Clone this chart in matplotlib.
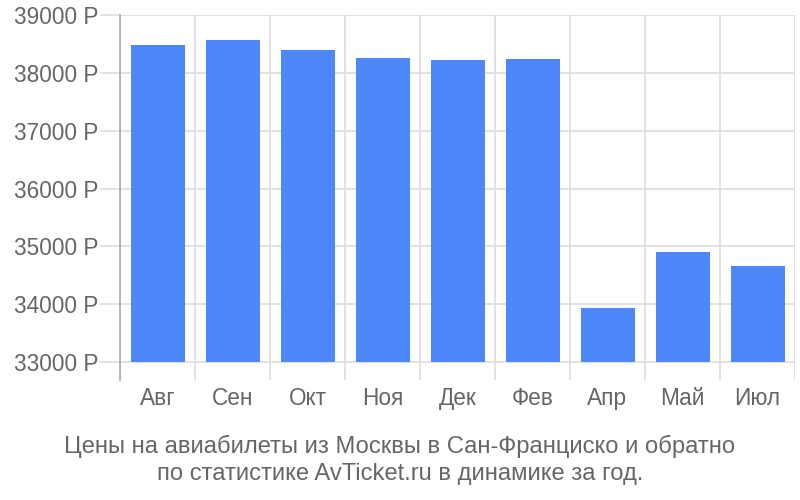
import numpy as np
import matplotlib
matplotlib.use('Agg')
import matplotlib.pyplot as plt

plt.rcParams['font.family'] = ['Liberation Sans', 'DejaVu Sans']

months = ['Авг', 'Сен', 'Окт', 'Ноя', 'Дек', 'Фев', 'Апр', 'Май', 'Июл']
prices = [38480, 38560, 38400, 38260, 38220, 38240, 33930, 34900, 34660]
y_ticks = [33000, 34000, 35000, 36000, 37000, 38000, 39000]
caption = ['Цены на авиабилеты из Москвы в Сан-Франциско и обратно',
           'по статистике AvTicket.ru в динамике за год.']

bar_color = '#4c88f9'
grid_color = '#dddddd'
text_color = '#666666'
base = 33000

fig = plt.figure(figsize=(8, 5), dpi=100)
ax = fig.add_axes([0.15, 0.24, 0.84375, 0.73])

x = np.arange(len(months)) + 0.5
heights = [p - base for p in prices]
ax.bar(x, heights, bottom=base, width=0.72, color=bar_color, zorder=3)

ax.set_xlim(0, len(months))
ax.set_ylim(32690, 39000)

# y axis: gridlines + long ticks reaching left of the spine
ax.set_yticks(y_ticks)
ax.set_yticklabels([f'{v} Р' for v in y_ticks])
ax.yaxis.grid(True, color=grid_color, linewidth=1.2, zorder=0)
ax.tick_params(axis='y', length=14.4, width=1.2, color=grid_color, pad=1,
               labelsize=16.3, labelcolor=text_color)

# x axis: category labels, separators as minor gridlines
ax.set_xticks(x)
ax.set_xticklabels(months)
ax.set_xticks(np.arange(len(months) + 1), minor=True)
ax.xaxis.grid(True, which='minor', color=grid_color, linewidth=1.2, zorder=0)
ax.tick_params(axis='x', which='both', length=0, pad=5,
               labelsize=16.3, labelcolor=text_color)

for s in ['top', 'right', 'bottom']:
    ax.spines[s].set_visible(False)
ax.spines['left'].set_color('#aaaaaa')
ax.spines['left'].set_linewidth(1.2)
ax.spines['left'].set_zorder(4)

fig.text(0.5, 0.108, caption[0], ha='center', va='center', fontsize=17.1, color=text_color)
fig.text(0.5, 0.052, caption[1], ha='center', va='center', fontsize=17.1, color=text_color)

fig.savefig('out.png', dpi=100)
